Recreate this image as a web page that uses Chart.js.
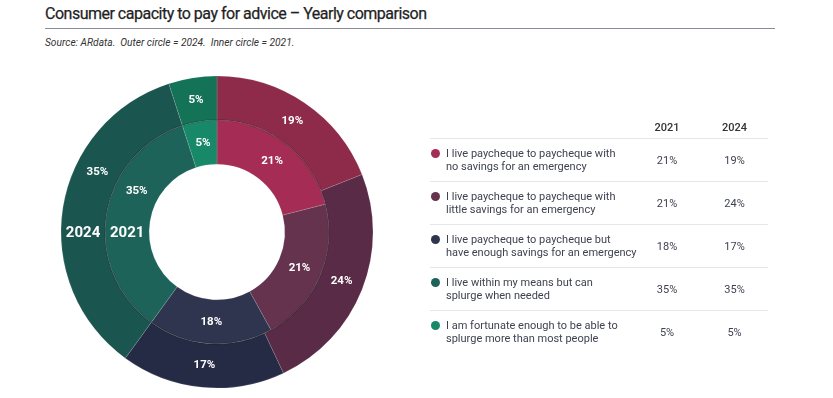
<!DOCTYPE html>
<html><head><meta charset="utf-8">
<script src="https://cdn.jsdelivr.net/npm/chart.js@4/dist/chart.umd.min.js"></script>
<style>
html,body{margin:0;padding:0;background:#fff;width:833px;height:398px;overflow:hidden;font-family:Roboto,"Noto Sans",sans-serif;}
#title{position:absolute;left:45px;top:4px;font-size:16px;letter-spacing:-0.5px;font-weight:400;color:#1f1f24;white-space:nowrap;-webkit-text-stroke:0.25px #1f1f24;}
#rule{position:absolute;left:45px;top:28px;width:730px;height:0;border-top:1.5px solid #8a8d96;}
#sub{position:absolute;left:45px;top:37px;font-size:10.2px;font-style:italic;color:#333;white-space:pre;}
#wrap{position:absolute;left:0;top:66px;width:434px;height:332px;}
#tbl{position:absolute;left:430px;top:116px;width:338px;border-collapse:collapse;table-layout:fixed;font-size:11px;color:#3f4250;}
#tbl td,#tbl th{padding:0;}
#tbl th{height:22px;font-weight:500;color:#333;text-align:center;font-size:11px;}
#tbl tr.r td{height:42px;border-top:1px solid #e6e6e6;}
#tbl td.v{text-align:center;}
.lab{display:flex;align-items:flex-start;line-height:13px;white-space:nowrap;}
.dot{width:9px;height:9px;border-radius:50%;margin:2px 6px 0 1px;flex:none;}
</style></head>
<body>
<div id="title"></div>
<div id="rule"></div>
<div id="sub"></div>
<div id="wrap"><canvas id="c"></canvas></div>
<table id="tbl"><colgroup><col style="width:203px"><col style="width:68px"><col style="width:67px"></colgroup><thead><tr><th></th><th id="h1"></th><th id="h2"></th></tr></thead><tbody id="tb"></tbody></table>
<script>
const titleText = "Consumer capacity to pay for advice \u2013 Yearly comparison";
const subtitleText = "Source: ARdata.  Outer circle = 2024.  Inner circle = 2021.";
const categories = [
  ["I live paycheque to paycheque with", "no savings for an emergency"],
  ["I live paycheque to paycheque with", "little savings for an emergency"],
  ["I live paycheque to paycheque but", "have enough savings for an emergency"],
  ["I live within my means but can", "splurge when needed"],
  ["I am fortunate enough to be able to", "splurge more than most people"]
];
const years = ["2021", "2024"];
const values2021 = [21, 21, 18, 35, 5];
const values2024 = [19, 24, 17, 35, 5];
const colors2021 = ["#a52d55", "#66334f", "#2f354f", "#1e6359", "#178868"];
const colors2024 = ["#8e2b4b", "#5a2b46", "#252b45", "#1a5550", "#147257"];

document.getElementById('title').textContent = titleText;
document.getElementById('sub').textContent = subtitleText;
document.getElementById('h1').textContent = years[0];
document.getElementById('h2').textContent = years[1];
const tb = document.getElementById('tb');
categories.forEach((c, i) => {
  const tr = document.createElement('tr'); tr.className = 'r';
  const td = document.createElement('td');
  const lab = document.createElement('div'); lab.className = 'lab';
  const dot = document.createElement('span'); dot.className = 'dot'; dot.style.background = colors2021[i];
  const txt = document.createElement('div'); txt.innerHTML = c[0] + '<br>' + c[1];
  lab.appendChild(dot); lab.appendChild(txt); td.appendChild(lab); tr.appendChild(td);
  [values2021[i], values2024[i]].forEach(v => { const t = document.createElement('td'); t.className = 'v'; t.textContent = v + '%'; tr.appendChild(t); });
  tb.appendChild(tr);
});

const labelPlugin = {
  id: 'ringLabels',
  afterDatasetsDraw(chart) {
    const ctx = chart.ctx;
    ctx.save();
    ctx.textAlign = 'center'; ctx.textBaseline = 'middle'; ctx.fillStyle = '#fff';
    const m0 = chart.getDatasetMeta(0).data[0];
    ctx.beginPath();
    ctx.arc(m0.x, m0.y, m0.innerRadius, 0, Math.PI * 2);
    ctx.strokeStyle = 'rgba(0,0,0,0.28)'; ctx.lineWidth = 1.5; ctx.stroke();
    chart.data.datasets.forEach((ds, di) => {
      const meta = chart.getDatasetMeta(di);
      meta.data.forEach((arc, i) => {
        const r = (arc.innerRadius + arc.outerRadius) / 2;
        let a = (arc.startAngle + arc.endAngle) / 2;
        if (arc.startAngle < Math.PI && arc.endAngle > Math.PI) a += 0.31;
        ctx.font = 'bold 11.5px Roboto, sans-serif';
        ctx.fillText(ds.data[i] + '%', arc.x + Math.cos(a) * r, arc.y + Math.sin(a) * r);
      });
      const a0 = meta.data[0];
      const r = (a0.innerRadius + a0.outerRadius) / 2;
      ctx.font = 'bold 15px Roboto, sans-serif';
      ctx.fillText(ds.label, a0.x - r, a0.y + 1);
    });
    ctx.restore();
  }
};

new Chart(document.getElementById('c'), {
  type: 'doughnut',
  data: {
    labels: categories.map(c => c.join(' ')),
    datasets: [
      { label: years[1], data: values2024, backgroundColor: colors2024, borderColor: 'rgba(255,255,255,0.15)', borderWidth: 0.8 },
      { label: years[0], data: values2021, backgroundColor: colors2021, borderColor: 'rgba(255,255,255,0.15)', borderWidth: 0.8 }
    ]
  },
  options: {
    responsive: true, maintainAspectRatio: false, animation: false,
    radius: 156, cutout: 72,
    layout: { padding: 0 },
    plugins: { legend: { display: false }, tooltip: { enabled: false } }
  },
  plugins: [labelPlugin]
});
</script>
</body></html>
